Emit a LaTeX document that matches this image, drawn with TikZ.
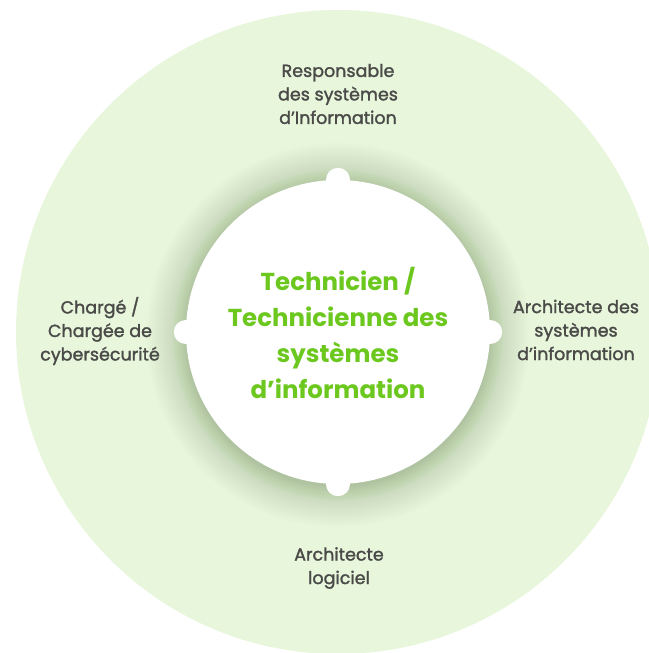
\documentclass[tikz,border=0pt]{standalone}
\usepackage{fontspec}
\setmainfont{Poppins}
\newfontfamily\labelfont[FakeBold=1.6]{Poppins}
\definecolor{bgc}{HTML}{E8F6DC}
\definecolor{shadowc}{HTML}{6E8A5A}
\definecolor{labelc}{HTML}{4A4A48}
\definecolor{corec}{HTML}{6CC81E}
\tikzset{
  rolelabel/.style={align=center, text=labelc, font=\labelfont\fontsize{17.5}{23.5}\selectfont, inner sep=0pt},
  corelabel/.style={align=center, text=corec, font=\fontsize{24.5}{36}\selectfont\bfseries, inner sep=0pt},
  bump/.style={fill=white}
}
\begin{document}
\begin{tikzpicture}[x=1pt,y=-1pt]
\useasboundingbox (0,0) rectangle (648,653);
\fill[bgc] (338,332) circle (322);
% soft shadow around the core circle
\foreach \r in {152,153,...,166}{
  \fill[shadowc, opacity=0.022] (338,335) circle (\r);
}
\foreach \r in {168,170,...,192}{
  \fill[shadowc, opacity=0.012] (338,335) circle (\r);
}
\node[circle, fill=white, minimum size=304pt, inner sep=0pt] (core) at (338,332) {};
\fill[bump] (core.north) circle (12);
\fill[bump] (core.south) circle (12);
\fill[bump] (core.west) circle (12);
\fill[bump] (core.east) circle (12);
\node[corelabel] (coretext) at (338,333) {Technicien /\\Technicienne des\\systèmes\\d’information};
\node[rolelabel] (resp) at (338,94) {Responsable\\des systèmes\\d’Information};
\node[rolelabel] (charge) at (100,331) {Chargé /\\Chargée de\\cybersécurité};
\node[rolelabel] (archsi) at (576,330) {Architecte des\\systèmes\\d’information};
\node[rolelabel] (archlog) at (339,568) {Architecte\\logiciel};
\end{tikzpicture}
\end{document}
